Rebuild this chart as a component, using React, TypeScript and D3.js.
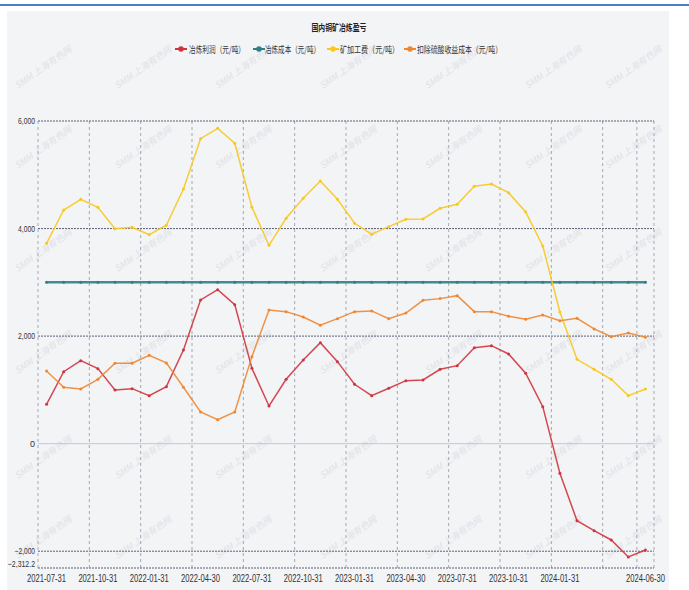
import React from 'react';
import * as d3 from 'd3';

// monthly dates
const dates = [
  '2021-07-31', '2021-08-31', '2021-09-30', '2021-10-31', '2021-11-30', '2021-12-31',
  '2022-01-31', '2022-02-28', '2022-03-31', '2022-04-30', '2022-05-31', '2022-06-30',
  '2022-07-31', '2022-08-31', '2022-09-30', '2022-10-31', '2022-11-30', '2022-12-31',
  '2023-01-31', '2023-02-28', '2023-03-31', '2023-04-30', '2023-05-31', '2023-06-30',
  '2023-07-31', '2023-08-31', '2023-09-30', '2023-10-31', '2023-11-30', '2023-12-31',
  '2024-01-31', '2024-02-29', '2024-03-31', '2024-04-30', '2024-05-31', '2024-06-30',
];

const profit = [
  732, 1339, 1543, 1395, 999, 1023, 893, 1060, 1742, 2672, 2864, 2585,
  1402, 701, 1197, 1556, 1878, 1525, 1104, 893, 1030, 1171, 1184, 1383,
  1450, 1785, 1822, 1668, 1309, 688, -551, -1432, -1618, -1791, -2107, -1977,
];
const smeltCost = [
  3000, 3000, 3000, 3000, 3000, 3000, 3000, 3000, 3000, 3000, 3000, 3000,
  3000, 3000, 3000, 3000, 3000, 3000, 3000, 3000, 3000, 3000, 3000, 3000,
  3000, 3000, 3000, 3000, 3000, 3000, 3000, 3000, 3000, 3000, 3000, 3000,
];
const tcFee = [
  3726, 4345, 4544, 4396, 3998, 4023, 3886, 4061, 4736, 5671, 5864, 5586,
  4396, 3689, 4191, 4563, 4885, 4544, 4098, 3894, 4035, 4172, 4178, 4377,
  4451, 4786, 4829, 4667, 4308, 3676, 2450, 1569, 1383, 1197, 893, 1017,
];
const netCost = [
  1352, 1049, 1017, 1197, 1495, 1495, 1644, 1501, 1049, 589, 446, 589,
  1618, 2486, 2455, 2356, 2201, 2325, 2455, 2468, 2325, 2430, 2666, 2697,
  2752, 2455, 2455, 2369, 2313, 2393, 2287, 2331, 2133, 1990, 2058, 1978,
];

const seriesNames = ['冶炼利润（元/吨）', '冶炼成本（元/吨）', '矿加工费（元/吨）', '扣除硫酸收益成本（元/吨）'];
const seriesColors = ['#d0343f', '#2f7f88', '#f7c81e', '#ee8732'];
const yTicks = [6000, 4000, 2000, 0, -2000, -2312.2];
const xLabelIdx = [0, 3, 6, 9, 12, 15, 18, 21, 24, 27, 30, 35];
const xGridIdx = [0, 3, 6, 9, 12, 15, 18, 21, 24, 27, 30, 33, 35];

const W = 689;
const H = 590;
const left = 38, right = 654, top = 121, bottom = 568;

export default function App() {
  const x = d3.scaleBand<string>().domain(dates).range([left, right]);
  const y = d3.scaleLinear().domain([-2312.2, 6000]).range([bottom, top]);
  const cx = (i: number) => (x(dates[i]) as number) + x.bandwidth() / 2;
  const all = [profit, smeltCost, tcFee, netCost];
  const line = d3.line<number>().x((_, i) => cx(i)).y((d) => y(d));
  const fmt = (v: number) => (Number.isInteger(v) ? d3.format(',')(v) : d3.format(',.1f')(v));

  // faint watermark tiles
  const wmX = [45, 145, 245, 350, 455, 555, 635];
  const wmY = [70, 150, 253, 355, 460, 540];

  // legend layout (marker centre, text start, text width)
  const legend = [
    { m: 181, t: 189, w: 56 },
    { m: 259, t: 265, w: 55 },
    { m: 333, t: 340, w: 59 },
    { m: 410, t: 417, w: 85 },
  ];

  return (
    <svg width={W} height={H} style={{ position: 'absolute', left: 0, top: 0, display: 'block' }}
      fontFamily="'Noto Sans CJK SC', 'Liberation Sans', sans-serif">
      <rect width={W} height={H} fill="#ffffff" />
      <rect x={0} y={4} width={W} height={2} fill="#4a7fc8" />
      <rect x={7} y={11} width={662} height={H - 11} fill="#f3f4f6" />

      {wmY.map((wy) => wmX.map((wx) => (
        <text key={wx + '-' + wy} x={wx} y={wy} fontSize={9} fontStyle="italic" fill="#e0e2e6"
          textAnchor="middle" transform={`rotate(-35 ${wx} ${wy})`}>SMM 上海有色网</text>
      )))}

      <text x={339} y={31} textAnchor="middle" fontSize={9.5} fontWeight="bold" fill="#222"
        textLength={55} lengthAdjust="spacingAndGlyphs">国内铜矿冶炼盈亏</text>

      {legend.map((l, k) => (
        <g key={k}>
          <line x1={l.m - 6} x2={l.m + 6} y1={49} y2={49} stroke={seriesColors[k]} strokeWidth={2} />
          <circle cx={l.m} cy={49} r={2.8} fill={seriesColors[k]} />
          <text x={l.t} y={52.5} fontSize={9} fill="#333" textLength={l.w}
            lengthAdjust="spacingAndGlyphs">{seriesNames[k]}</text>
        </g>
      ))}

      {/* vertical grid */}
      {xGridIdx.map((i) => (
        <line key={i} x1={x(dates[i])} x2={x(dates[i])} y1={top} y2={bottom}
          stroke="#a3a7b8" strokeWidth={1} strokeDasharray="3,3" />
      ))}
      <line x1={right} x2={right} y1={top} y2={bottom} stroke="#a3a7b8" strokeDasharray="3,3" />

      {/* horizontal grid */}
      {yTicks.map((v) => (
        <line key={v} x1={left} x2={right} y1={y(v)} y2={y(v)}
          stroke={v === 0 ? '#c3c3e2' : '#5c6075'} strokeWidth={1}
          strokeDasharray={v === 0 ? undefined : '2,1'} />
      ))}

      {yTicks.map((v) => {
        const s = fmt(v);
        const yy = v === -2312.2 ? y(v) - 1.5 : y(v) + 3;
        return (
          <text key={v} x={35} y={yy} textAnchor="end" fontSize={9} fill="#333"
            fontFamily="'Liberation Sans', sans-serif"
            textLength={s.length > 1 ? s.length * 3.4 : undefined}
            lengthAdjust="spacingAndGlyphs">{s}</text>
        );
      })}

      {xLabelIdx.map((i) => (
        <text key={i} x={cx(i)} y={582} textAnchor="middle" fontSize={10} fill="#333"
          fontFamily="'Liberation Sans', sans-serif" textLength={39}
          lengthAdjust="spacingAndGlyphs">{dates[i]}</text>
      ))}

      {all.map((data, k) => (
        <g key={k}>
          <path d={line(data) as string} fill="none" stroke={seriesColors[k]}
            strokeWidth={k === 1 ? 2.5 : 1.5} strokeOpacity={0.9} />
          {data.map((d, i) => (
            <circle key={i} cx={cx(i)} cy={y(d)} r={1.5} fill={seriesColors[k]} />
          ))}
        </g>
      ))}
    </svg>
  );
}
